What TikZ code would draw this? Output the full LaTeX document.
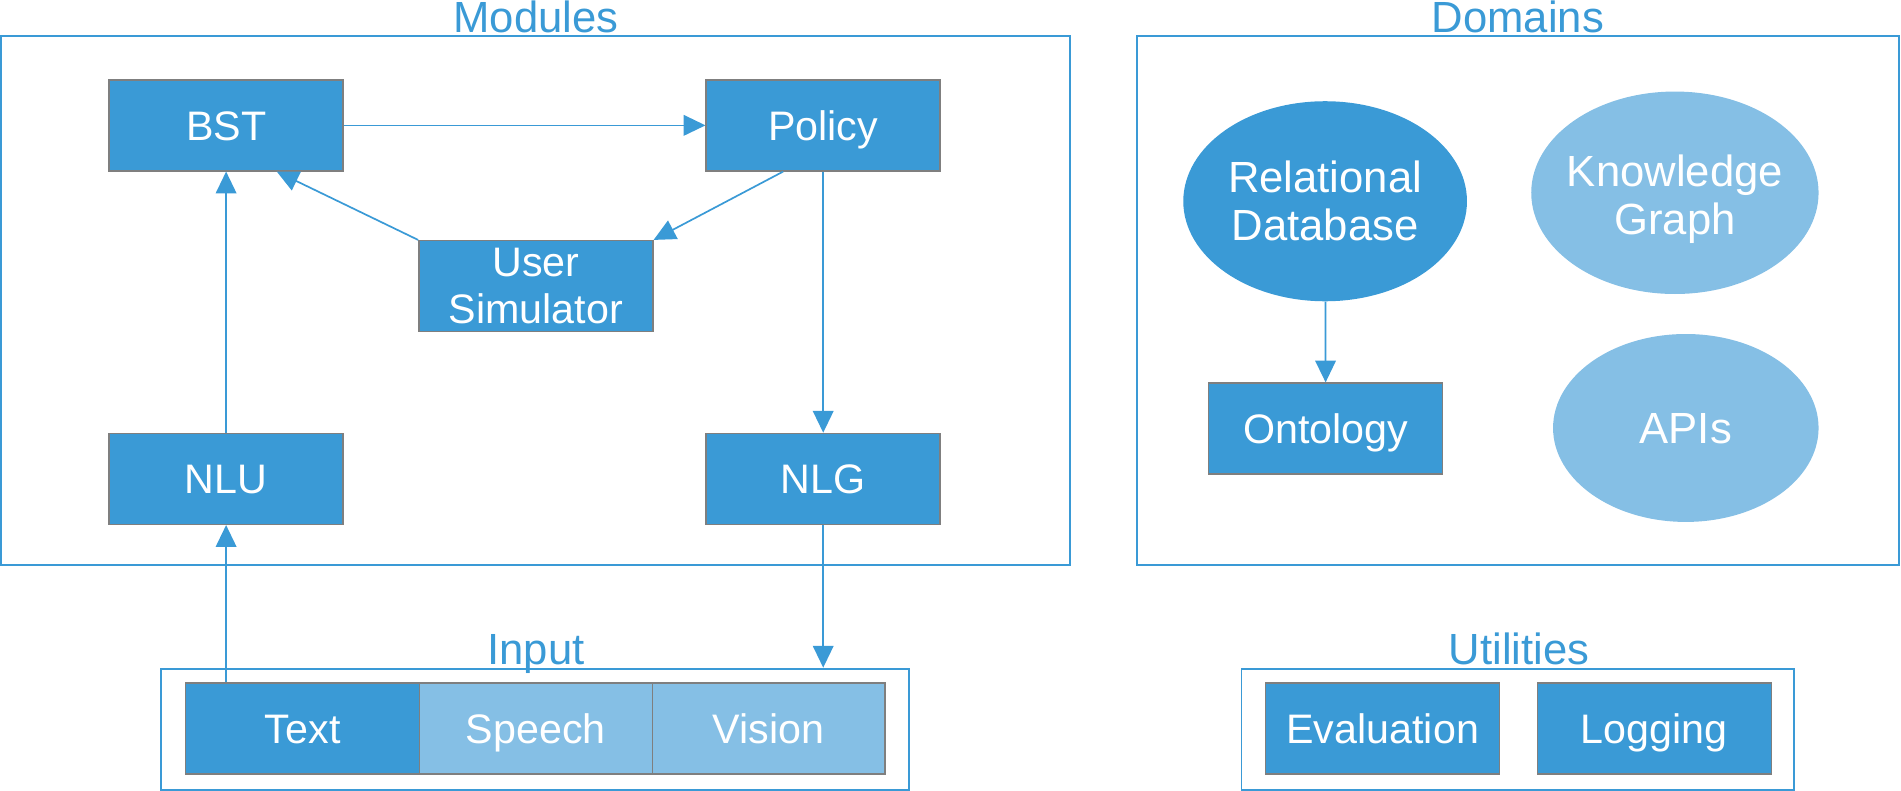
\documentclass[tikz,border=0pt]{standalone}
\usepackage{fontspec}
\setmainfont{Liberation Sans}
\usetikzlibrary{arrows.meta,shapes.geometric,calc}
\definecolor{dblue}{HTML}{3A9AD6}
\definecolor{lblue}{HTML}{85BFE5}
\definecolor{bgray}{HTML}{7F7F7F}
\begin{document}
\begin{tikzpicture}[x=1pt,y=-1pt,
  lbl/.style={font=\fontsize{34}{38.5}\selectfont, text=white},
  boxbase/.style={lbl, draw=bgray, line width=1.2pt, fill=#1, minimum width=193pt, minimum height=75pt, inner sep=0pt},
  box/.style={boxbase=#1, text height=24.5pt, text depth=0pt},
  box/.default=dblue,
  mbox/.style={boxbase=dblue, align=center},
  ovaltext/.style={lbl, font=\fontsize{36}{39.5}\selectfont, align=center, inner sep=0pt},
  oval/.style={ovaltext, ellipse, fill=#1},
  frame/.style={draw=dblue, line width=1.6pt, inner sep=0pt},
  title/.style={font=\fontsize{36}{40}\selectfont, text=dblue, anchor=base, inner sep=0pt},
  conn/.style={draw=dblue, line width=1.4pt, -{Triangle[length=18pt,width=17pt]}}
]
\useasboundingbox (0,0) rectangle (1568,652.4);

% frames
\node[frame, minimum width=882pt, minimum height=436pt] (modules) at (441.5,248) {};
\node[frame, minimum width=629pt, minimum height=436pt] (domains) at (1252,248) {};
\node[frame, minimum width=617pt, minimum height=100pt] (inputframe) at (441.5,601.5) {};
\node[frame, minimum width=456pt, minimum height=100pt] (utilframe) at (1252,601.5) {};

% titles
\node[title] (tmod) at (442,27) {Modules};
\node[title] (tdom) at (1252,27) {Domains};
\node[title] (tin) at (442,548) {Input};
\node[title] (tut) at (1253,548) {Utilities};

% modules
\node[box] (bst) at (186.5,103.4) {BST};
\node[box] (policy) at (679,103.4) {Policy};
\node[mbox] (usersim) at (442,236) {User\\Simulator};
\node[box] (nlu) at (186.5,395) {NLU};
\node[box] (nlg) at (679,395) {NLG};

% domains
\node[oval=dblue, minimum width=234pt, minimum height=165pt, yshift=-1pt] (rdb) at (1093,165) {Relational\\Database};
\node[oval=lblue, minimum width=237pt, minimum height=167pt,
      label={[ovaltext, yshift=-5pt]center:Knowledge\\Graph}] (kg) at (1381.5,159) {};
\node[oval=lblue, minimum width=219pt, minimum height=155pt, text height=25pt, text depth=0pt] (apis) at (1390.5,353) {APIs};
\node[box] (onto) at (1093.5,353.5) {Ontology};

% input
\node[box] (text) at (249.7,601) {Text};
\node[box=lblue, minimum width=192pt] (speech) at (442,601) {Speech};
\node[box=lblue, minimum width=192pt] (vision) at (634,601) {Vision};

% utilities
\node[box] (eval) at (1140.5,601) {Evaluation};
\node[box] (logging) at (1364.5,601) {Logging};

% connectors
\draw[conn] (bst) -- (policy);
\draw[conn] ($(policy.south west)!0.33!(policy.south east)$) -- (usersim.north east);
\draw[conn] (usersim.north west) -- ($(bst.south west)!0.715!(bst.south east)$);
\draw[conn] (nlu) -- (bst);
\draw[conn] (policy) -- (nlg);
\draw[conn] (nlu.south |- text.north) -- (nlu.south);
\draw[conn] (nlg.south) -- (nlg.south |- inputframe.north);
\draw[conn] (rdb) -- (onto);
\end{tikzpicture}
\end{document}
